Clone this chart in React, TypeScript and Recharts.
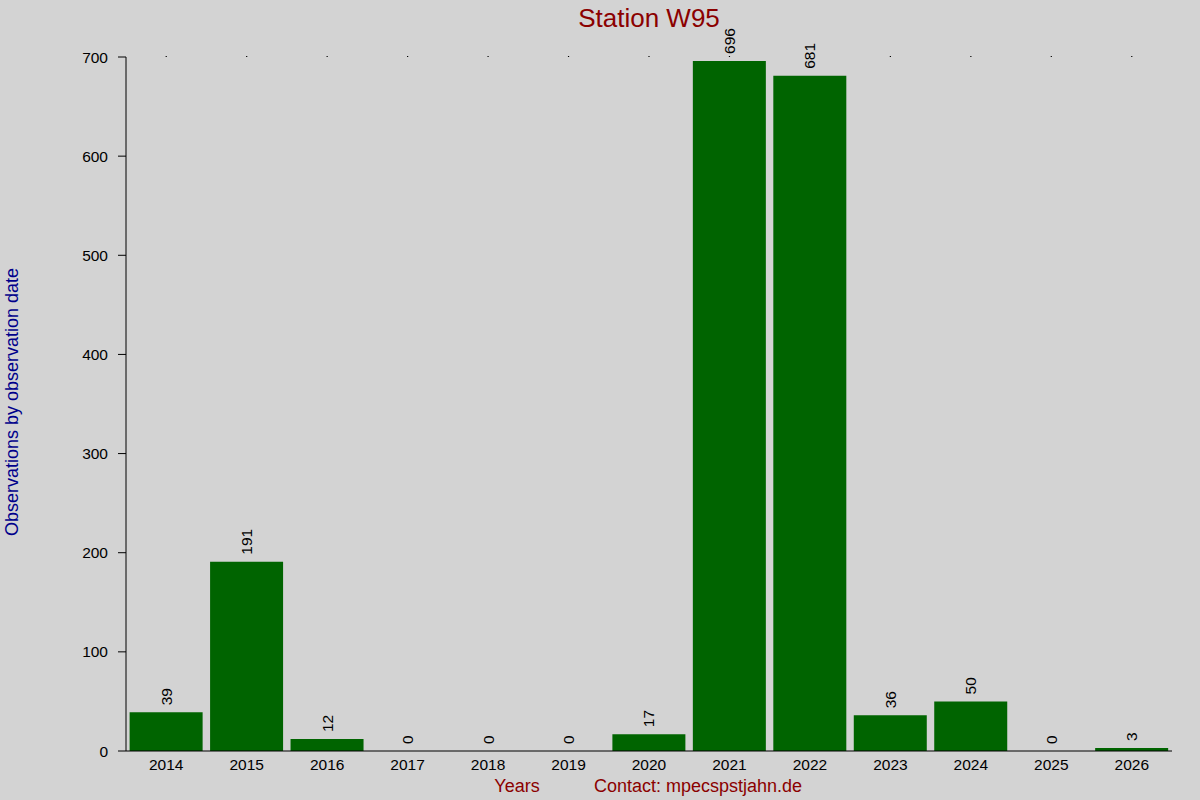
import { ComposedChart, Bar, Line, XAxis, YAxis, LabelList } from 'recharts';

const years = ['2014', '2015', '2016', '2017', '2018', '2019', '2020', '2021', '2022', '2023', '2024', '2025', '2026'];
const observations = [39, 191, 12, 0, 0, 0, 17, 696, 681, 36, 50, 0, 3];
const yTicks = [0, 100, 200, 300, 400, 500, 600, 700];

const data = years.map((year, i) => ({ year, count: observations[i] }));

const font = '"Liberation Sans", Arial, sans-serif';

// rotated value label sitting above each bar (anchored on an invisible line so zeros get one too)
const BarValueLabel = (props: { x?: number; y?: number; width?: number; value?: number }) => {
    const { x = 0, y = 0, width = 0, value } = props;
    const cx = x + (width || 0) / 2;
    const cy = y - 7;
    return (
        <text
            x={cx}
            y={cy}
            transform={`rotate(-90, ${cx}, ${cy})`}
            textAnchor="start"
            dominantBaseline="central"
            fontSize={15.5}
            fill="#000"
        >
            {String(value)}
        </text>
    );
};

export default function App() {
    return (
        <div style={{ position: 'absolute', left: 0, top: 0, width: 1200, height: 800, background: '#d3d3d3', fontFamily: font }}>
            <div style={{ position: 'absolute', left: 126, width: 1046, top: 3, textAlign: 'center', fontSize: 26, color: '#8b0000' }}>
                Station W95
            </div>
            <div
                style={{
                    position: 'absolute',
                    left: 12,
                    top: 402,
                    transform: 'translate(-50%, -50%) rotate(-90deg)',
                    whiteSpace: 'nowrap',
                    fontSize: 18,
                    color: '#00008b',
                }}
            >
                Observations by observation date
            </div>
            <div style={{ position: 'absolute', left: 517, top: 776, transform: 'translateX(-50%)', fontSize: 18, color: '#8b0000', whiteSpace: 'nowrap' }}>
                Years
            </div>
            <div style={{ position: 'absolute', left: 698, top: 776, transform: 'translateX(-50%)', fontSize: 18, color: '#8b0000', whiteSpace: 'nowrap' }}>
                Contact: mpecspstjahn.de
            </div>
            <ComposedChart
                width={1200}
                height={800}
                data={data}
                margin={{ top: 55, right: 28, left: 66, bottom: 19 }}
                barCategoryGap="4.5%"
            >
                <XAxis
                    dataKey="year"
                    height={30}
                    tickLine={false}
                    axisLine={{ stroke: '#000' }}
                    tick={{ fontSize: 15.5, fill: '#000' }}
                    interval={0}
                />
                {/* tiny marks along the top edge at each year */}
                <XAxis
                    xAxisId="top"
                    dataKey="year"
                    orientation="top"
                    height={2}
                    axisLine={false}
                    tickSize={1}
                    tickLine={{ stroke: '#000', strokeWidth: 1.2 }}
                    tick={{ fill: 'none', fontSize: 1 }}
                    interval={0}
                />
                <YAxis
                    width={60}
                    domain={[0, 700]}
                    ticks={yTicks}
                    tickSize={8}
                    tickMargin={10}
                    axisLine={{ stroke: '#000' }}
                    tickLine={{ stroke: '#000' }}
                    tick={{ fontSize: 15.5, fill: '#000' }}
                />
                <Bar dataKey="count" fill="#006400" isAnimationActive={false} />
                <Line
                    dataKey="count"
                    stroke="none"
                    dot={false}
                    activeDot={false}
                    legendType="none"
                    isAnimationActive={false}
                >
                    <LabelList dataKey="count" content={<BarValueLabel />} />
                </Line>
            </ComposedChart>
        </div>
    );
}
